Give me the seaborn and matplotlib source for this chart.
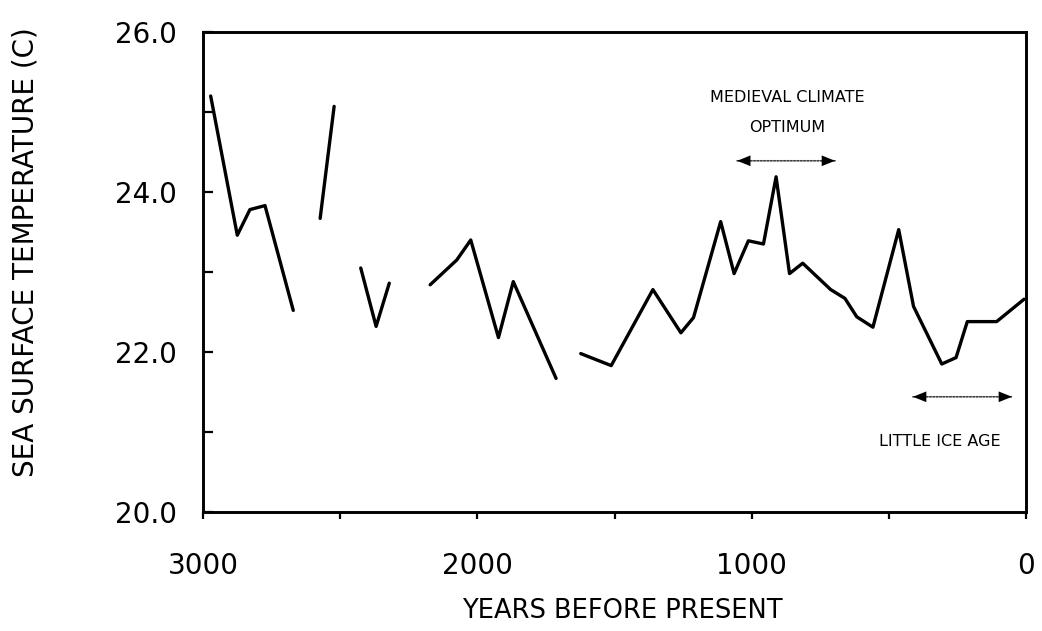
import numpy as np
import pandas as pd
import matplotlib
matplotlib.use("Agg")
import matplotlib.pyplot as plt
import seaborn as sns

# ---- data ----
years = [2972, 2875, 2829, 2774, 2671,
         2573, 2522,
         2425, 2369, 2321,
         2172, 2075, 2024, 1923, 1869, 1713,
         1623, 1512, 1360, 1258, 1212, 1113, 1064, 1012, 957, 911, 862, 814,
         712, 660, 617, 558, 464, 410, 307, 255, 214, 107, 7]
temps = [25.20, 23.46, 23.78, 23.83, 22.52,
         23.67, 25.07,
         23.05, 22.32, 22.86,
         22.84, 23.15, 23.40, 22.18, 22.88, 21.67,
         21.98, 21.83, 22.78, 22.24, 22.43, 23.63, 22.98, 23.39, 23.35, 24.19, 22.98, 23.11,
         22.78, 22.67, 22.44, 22.31, 23.53, 22.57, 21.85, 21.93, 22.38, 22.38, 22.66]
segment = [1] * 5 + [2] * 2 + [3] * 3 + [4] * 6 + [5] * 23

y_major = [20.0, 22.0, 24.0, 26.0]
y_minor = [21.0, 23.0, 25.0]
x_major = [3000, 2000, 1000, 0]
x_minor = [2500, 1500, 500]

xlabel = "YEARS BEFORE PRESENT"
ylabel = "SEA SURFACE TEMPERATURE (C)"
mco_lines = ["MEDIEVAL CLIMATE", "OPTIMUM"]
lia_text = "LITTLE ICE AGE"
mco_span = (1053, 696)
lia_span = (412, 51)

df = pd.DataFrame({"year": years, "temp": temps, "seg": segment})

sns.set_theme(style="white")
plt.rcParams["font.family"] = ["DejaVu Sans"]

fig = plt.figure(figsize=(10.42, 6.31), dpi=100)
ax = fig.add_axes([203 / 1042, 1 - 512 / 631, (1026 - 203) / 1042, (512 - 32) / 631])

sns.lineplot(data=df, x="year", y="temp", units="seg", estimator=None,
             color="black", linewidth=2.4, ax=ax, legend=False)

ax.set_xlim(3000, 0)
ax.set_ylim(20, 26)

ax.set_xticks(x_major)
ax.set_xticklabels([str(v) for v in x_major])
ax.set_xticks(x_minor, minor=True)
ax.set_yticks(y_major)
ax.set_yticklabels([f"{v:.1f}" for v in y_major])
ax.set_yticks(y_minor, minor=True)

for s in ax.spines.values():
    s.set_color("black")
    s.set_linewidth(2.1)
    s.set_visible(True)

ax.tick_params(axis="x", which="both", direction="out", length=5, width=1.6,
               color="black", bottom=True, pad=24, labelsize=20, labelcolor="black")
ax.tick_params(axis="y", which="both", direction="in", length=7, width=1.6,
               color="black", left=True, pad=19, labelsize=20, labelcolor="black")

ax.set_xlabel(xlabel, fontsize=18.5, color="black")
ax.set_ylabel(ylabel, fontsize=20, color="black")
ax.xaxis.label.set_va("center")
ax.yaxis.label.set_va("center")
ax.xaxis.set_label_coords((622 - 203) / 823, -(611 - 512) / 480)
ax.yaxis.set_label_coords(-(203 - 26) / 823, (512 - 252) / 480)

# annotations
def double_arrow(x0, x1, y):
    ax.annotate("", xy=(x1, y), xytext=(x0, y),
                arrowprops=dict(arrowstyle="-", lw=1.2, color="#444444",
                                linestyle=(0, (1, 1)), shrinkA=0, shrinkB=0))
    ax.annotate("", xy=(x1, y), xytext=(x0, y),
                arrowprops=dict(arrowstyle="<|-|>,head_length=0.8,head_width=0.32",
                                lw=0.01, fc="black", ec="black",
                                shrinkA=0, shrinkB=0))

double_arrow(mco_span[0], mco_span[1], 24.39)
double_arrow(lia_span[0], lia_span[1], 21.44)

ax.text(869, 25.18, mco_lines[0], ha="center", va="center", fontsize=11.5, color="black")
ax.text(869, 24.80, mco_lines[1], ha="center", va="center", fontsize=11.5, color="black")
ax.text(313, 20.88, lia_text, ha="center", va="center", fontsize=11.5, color="black")

fig.savefig("out.png", dpi=100, facecolor="white")
